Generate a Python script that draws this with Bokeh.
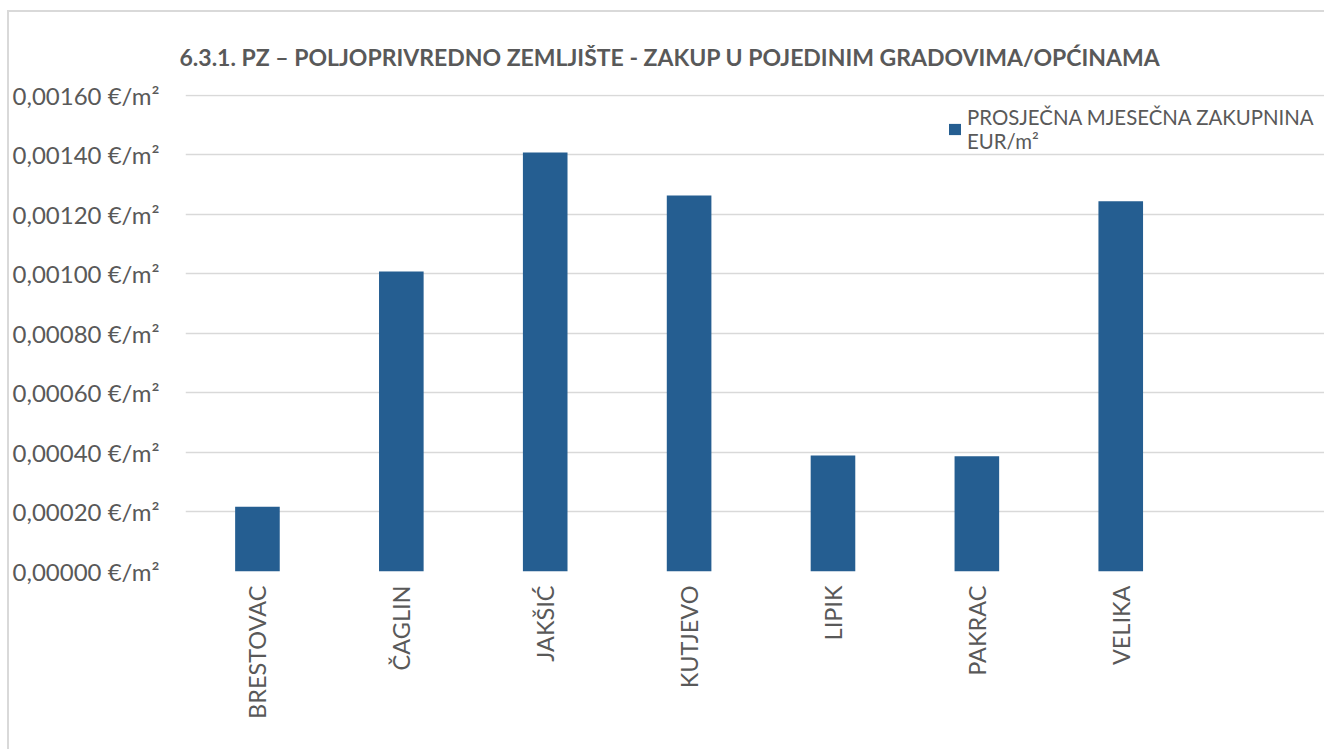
import math
from bokeh.plotting import figure
from bokeh.models import ColumnDataSource, FixedTicker, Legend, LegendItem, Title
from bokeh.embed import file_html
from bokeh.resources import INLINE

title_text = "6.3.1. PZ – POLJOPRIVREDNO ZEMLJIŠTE - ZAKUP U POJEDINIM GRADOVIMA/OPĆINAMA"
series_name = "PROSJEČNA MJESEČNA ZAKUPNINA\nEUR/m²"
categories = ["BRESTOVAC", "ČAGLIN", "JAKŠIĆ", "KUTJEVO", "LIPIK", "PAKRAC", "VELIKA"]
rent_values = [0.000218, 0.001008, 0.001408, 0.001264, 0.000390, 0.000387, 0.001244]
y_ticks = [0.0, 0.0002, 0.0004, 0.0006, 0.0008, 0.0010, 0.0012, 0.0014, 0.0016]
y_tick_labels = ["0,00000 €/m²", "0,00020 €/m²", "0,00040 €/m²", "0,00060 €/m²", "0,00080 €/m²",
                 "0,00100 €/m²", "0,00120 €/m²", "0,00140 €/m²", "0,00160 €/m²"]

FONT = "Lato"
TXT = "#595959"
GRID = "#d9d9d9"
BAR = "#255E91"

xs = list(range(len(categories)))
src = ColumnDataSource(dict(x=xs, top=rent_values, cat=categories))

p = figure(width=1317, height=739, output_backend="svg", toolbar_location=None,
           x_range=(-0.5, 7.43), y_range=(0, 0.001603),
           min_border_left=170, min_border_top=82, min_border_bottom=180, min_border_right=0)
p.styles = {"border-left": "2px solid #d9d9d9", "border-top": "2px solid #d9d9d9",
            "margin-left": "7px", "margin-top": "10px"}
p.outline_line_color = None
p.background_fill_color = "white"
p.border_fill_color = "white"

r = p.vbar(x="x", top="top", width=0.31, source=src, fill_color=BAR, line_color=None)

# axes
p.xaxis.ticker = FixedTicker(ticks=xs)
p.xaxis.major_label_overrides = {i: c for i, c in zip(xs, categories)}
p.xaxis.major_label_orientation = math.pi / 2
p.xaxis.major_label_standoff = 8
p.xaxis.axis_line_color = None
p.xaxis.major_tick_line_color = None
p.xaxis.minor_tick_line_color = None
p.xaxis.major_label_text_font = FONT
p.xaxis.major_label_text_font_size = "23.5px"
p.xaxis.major_label_text_color = TXT

p.yaxis.ticker = FixedTicker(ticks=y_ticks)
p.yaxis.major_label_overrides = {t: l for t, l in zip(y_ticks, y_tick_labels)}
p.yaxis.major_label_standoff = 20
p.yaxis.axis_line_color = None
p.yaxis.major_tick_line_color = None
p.yaxis.minor_tick_line_color = None
p.yaxis.major_label_text_font = FONT
p.yaxis.major_label_text_font_size = "24px"
p.yaxis.major_label_text_color = TXT

p.xgrid.grid_line_color = None
p.ygrid.ticker = FixedTicker(ticks=y_ticks)
p.ygrid.grid_line_color = GRID
p.ygrid.grid_line_width = 1.5

p.add_layout(Title(text=title_text, align="left", offset=-6, standoff=48,
                   text_font=FONT, text_font_style="bold", text_font_size="23px",
                   text_color=TXT), "above")

legend = Legend(items=[LegendItem(label=series_name, renderers=[r])],
                location=(762, 418), background_fill_alpha=0, border_line_color=None,
                label_text_font=FONT, label_text_font_size="20.4px", label_text_color=TXT,
                glyph_width=15, glyph_height=14, padding=0, margin=0, label_standoff=5,
                label_text_line_height=1.6)
p.add_layout(legend)

open("out.html", "w").write(file_html(p, INLINE))
